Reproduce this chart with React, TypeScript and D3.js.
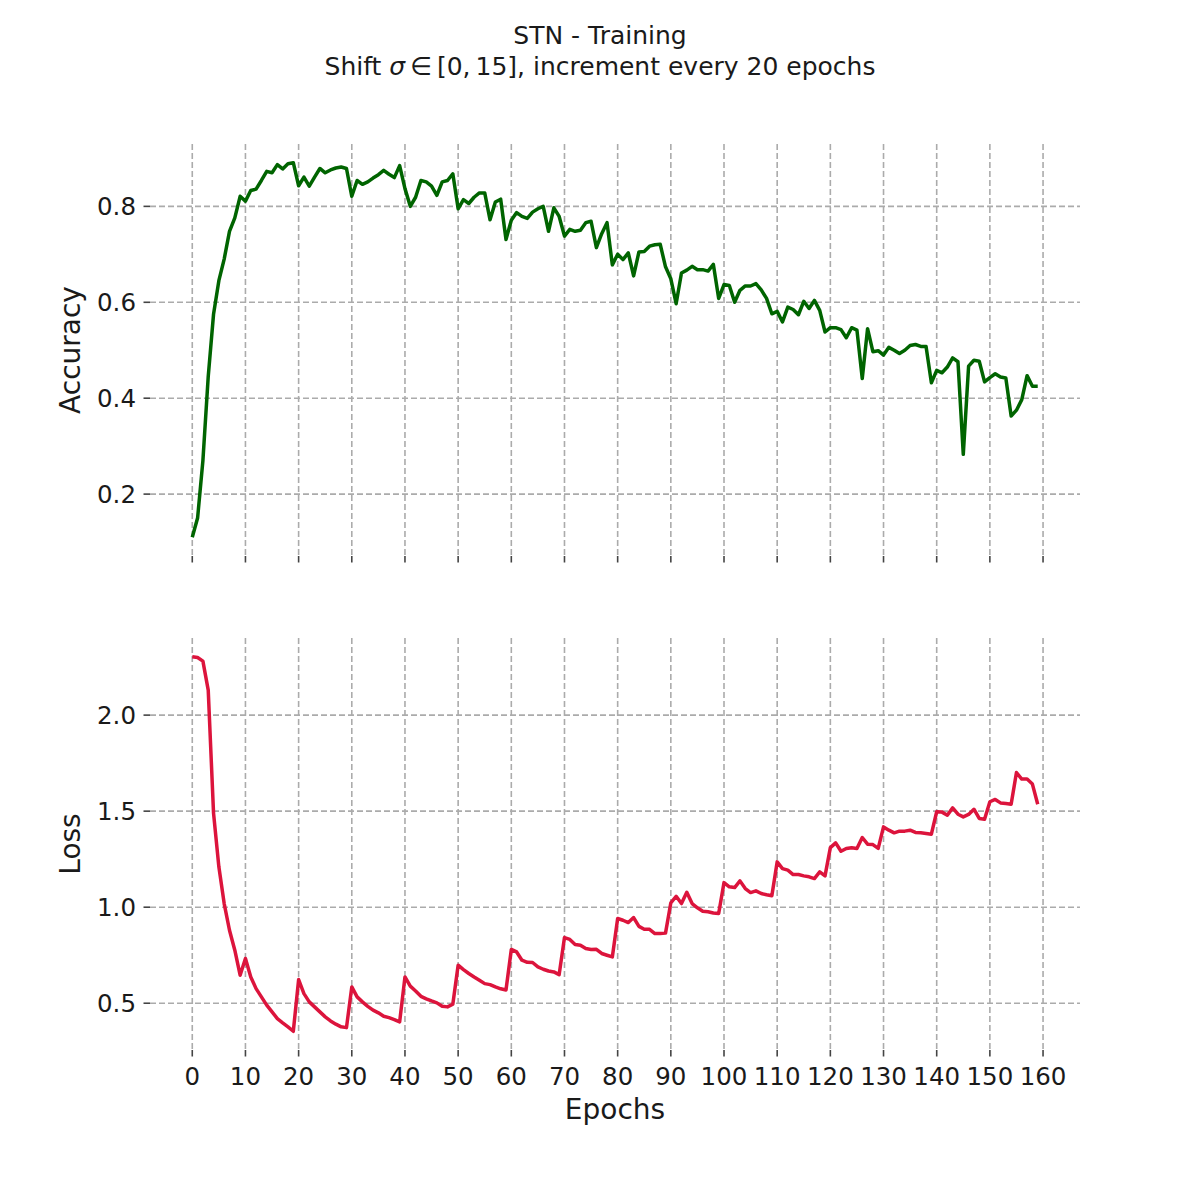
import React from 'react';
import * as d3 from 'd3';

const ACCURACY = [
  0.110, 0.150, 0.270, 0.445, 0.575, 0.645, 0.690, 0.748, 0.776, 0.821,
  0.811, 0.833, 0.836, 0.854, 0.873, 0.870, 0.887, 0.878, 0.889, 0.891,
  0.843, 0.861, 0.842, 0.861, 0.879, 0.870, 0.876, 0.880, 0.882, 0.879,
  0.821, 0.854, 0.846, 0.851, 0.859, 0.866, 0.875, 0.867, 0.860, 0.885,
  0.837, 0.800, 0.819, 0.854, 0.851, 0.842, 0.823, 0.851, 0.854, 0.868,
  0.795, 0.814, 0.806, 0.819, 0.828, 0.828, 0.772, 0.809, 0.815, 0.731,
  0.771, 0.787, 0.779, 0.775, 0.788, 0.795, 0.800, 0.748, 0.797, 0.779,
  0.738, 0.752, 0.748, 0.750, 0.766, 0.769, 0.714, 0.743, 0.766, 0.678,
  0.700, 0.689, 0.703, 0.655, 0.705, 0.706, 0.717, 0.720, 0.721, 0.674,
  0.649, 0.597, 0.661, 0.667, 0.675, 0.668, 0.668, 0.665, 0.679, 0.608,
  0.637, 0.635, 0.600, 0.625, 0.634, 0.634, 0.639, 0.626, 0.608, 0.576,
  0.581, 0.559, 0.590, 0.585, 0.574, 0.602, 0.587, 0.604, 0.583, 0.538,
  0.547, 0.547, 0.543, 0.526, 0.547, 0.542, 0.441, 0.545, 0.497, 0.499,
  0.490, 0.506, 0.500, 0.493, 0.500, 0.510, 0.512, 0.508, 0.508, 0.432,
  0.458, 0.453, 0.465, 0.484, 0.476, 0.283, 0.467, 0.479, 0.477, 0.434,
  0.443, 0.451, 0.444, 0.442, 0.363, 0.375, 0.397, 0.447, 0.425, 0.425,
];

const LOSS = [
  2.304, 2.300, 2.281, 2.130, 1.490, 1.210, 1.019, 0.880, 0.776, 0.646,
  0.733, 0.637, 0.576, 0.533, 0.490, 0.455, 0.420, 0.398, 0.377, 0.354,
  0.623, 0.550, 0.507, 0.481, 0.455, 0.429, 0.408, 0.391, 0.377, 0.373,
  0.585, 0.533, 0.507, 0.484, 0.464, 0.450, 0.432, 0.425, 0.415, 0.403,
  0.637, 0.589, 0.564, 0.536, 0.523, 0.512, 0.502, 0.484, 0.481, 0.495,
  0.698, 0.675, 0.655, 0.637, 0.620, 0.602, 0.597, 0.585, 0.575, 0.569,
  0.780, 0.767, 0.724, 0.713, 0.712, 0.689, 0.677, 0.668, 0.663, 0.649,
  0.842, 0.832, 0.806, 0.802, 0.785, 0.780, 0.781, 0.759, 0.750, 0.741,
  0.941, 0.932, 0.920, 0.946, 0.900, 0.885, 0.885, 0.863, 0.863, 0.865,
  1.023, 1.057, 1.019, 1.078, 1.019, 0.997, 0.979, 0.976, 0.970, 0.967,
  1.128, 1.106, 1.102, 1.137, 1.097, 1.076, 1.085, 1.071, 1.065, 1.060,
  1.236, 1.201, 1.193, 1.170, 1.170, 1.163, 1.158, 1.149, 1.184, 1.163,
  1.310, 1.335, 1.291, 1.306, 1.310, 1.306, 1.363, 1.328, 1.326, 1.306,
  1.418, 1.401, 1.387, 1.396, 1.396, 1.401, 1.389, 1.387, 1.384, 1.380,
  1.497, 1.495, 1.479, 1.517, 1.484, 1.470, 1.483, 1.510, 1.462, 1.458,
  1.549, 1.561, 1.543, 1.540, 1.536, 1.701, 1.667, 1.667, 1.641, 1.536,
];

const X_TICKS = [0, 10, 20, 30, 40, 50, 60, 70, 80, 90, 100, 110, 120, 130, 140, 150, 160];
const ACC_TICKS = [0.2, 0.4, 0.6, 0.8];
const LOSS_TICKS = [0.5, 1.0, 1.5, 2.0];

const TITLE_LINE1 = 'STN - Training';
const X_LABEL = 'Epochs';
const ACC_LABEL = 'Accuracy';
const LOSS_LABEL = 'Loss';

const FONT = '"DejaVu Sans", sans-serif';
const GRID = '#ababab';
const TICK = '#444';
const TEXT = '#1a1a1a';

function padded(ext: [number, number]): [number, number] {
  const m = (ext[1] - ext[0]) * 0.05;
  return [ext[0] - m, ext[1] + m];
}

function Panel({ values, ticks, fmt, top, bottom, x, color, label, showXLabels }: any) {
  const y = d3.scaleLinear()
    .domain(padded(d3.extent(values) as [number, number]))
    .range([bottom, top]);
  const left = x.range()[0];
  const right = x.range()[1];
  const line = d3.line<number>()
    .x((_, i) => x(i))
    .y((d) => y(d));
  return (
    <g>
      {X_TICKS.map((t) => (
        <g key={'vx' + t}>
          <line x1={x(t)} x2={x(t)} y1={top} y2={bottom} stroke={GRID} strokeWidth={1.6} strokeDasharray="6,3" />
          <line x1={x(t)} x2={x(t)} y1={bottom} y2={bottom + 6.5} stroke={TICK} strokeWidth={1.6} />
          {showXLabels && (
            <text x={x(t)} y={bottom + 35} textAnchor="middle" fontSize={24.5} fill={TEXT} fontFamily={FONT}>{t}</text>
          )}
        </g>
      ))}
      {ticks.map((t: number) => (
        <g key={'hy' + t}>
          <line x1={left} x2={right} y1={y(t)} y2={y(t)} stroke={GRID} strokeWidth={1.6} strokeDasharray="6,3" />
          <line x1={left - 6.5} x2={left} y1={y(t)} y2={y(t)} stroke={TICK} strokeWidth={1.6} />
          <text x={left - 14} y={y(t)} dy="0.36em" textAnchor="end" fontSize={24.5} fill={TEXT} fontFamily={FONT}>{fmt(t)}</text>
        </g>
      ))}
      <path d={line(values) || ''} fill="none" stroke={color} strokeWidth={3.5} strokeLinejoin="round" strokeLinecap="butt" />
      <text transform={`translate(80,${(top + bottom) / 2}) rotate(-90)`} textAnchor="middle" fontSize={28} fill={TEXT} fontFamily={FONT}>{label}</text>
    </g>
  );
}

export default function App() {
  const W = 1200;
  const H = 1200;
  const left = 150;
  const right = 1080;
  const epochs = ACCURACY.map((_, i) => i);
  const x = d3.scaleLinear()
    .domain(padded([epochs[0], epochs[epochs.length - 1]]))
    .range([left, right]);
  const fmt = d3.format('.1f');
  return (
    <svg width={W} height={H} viewBox={`0 0 ${W} ${H}`} style={{ position: 'absolute', left: 0, top: 0, background: '#fff' }}>
      <rect width={W} height={H} fill="#fff" />
      <text x={600} y={44} textAnchor="middle" fontSize={25} fill={TEXT} fontFamily={FONT}>{TITLE_LINE1}</text>
      <text x={600} y={75} textAnchor="middle" fontSize={25} fill={TEXT} fontFamily={FONT}>
        Shift <tspan fontStyle="italic">σ</tspan>{'\u2009∈\u2009[0,\u200915], increment every 20 epochs'}
      </text>
      <Panel values={ACCURACY} ticks={ACC_TICKS} fmt={fmt} top={144} bottom={556} x={x} color="#006400" label={ACC_LABEL} showXLabels={false} />
      <Panel values={LOSS} ticks={LOSS_TICKS} fmt={fmt} top={638} bottom={1050} x={x} color="#dc143c" label={LOSS_LABEL} showXLabels={true} />
      <text x={615} y={1119} textAnchor="middle" fontSize={28} fill={TEXT} fontFamily={FONT}>{X_LABEL}</text>
    </svg>
  );
}
